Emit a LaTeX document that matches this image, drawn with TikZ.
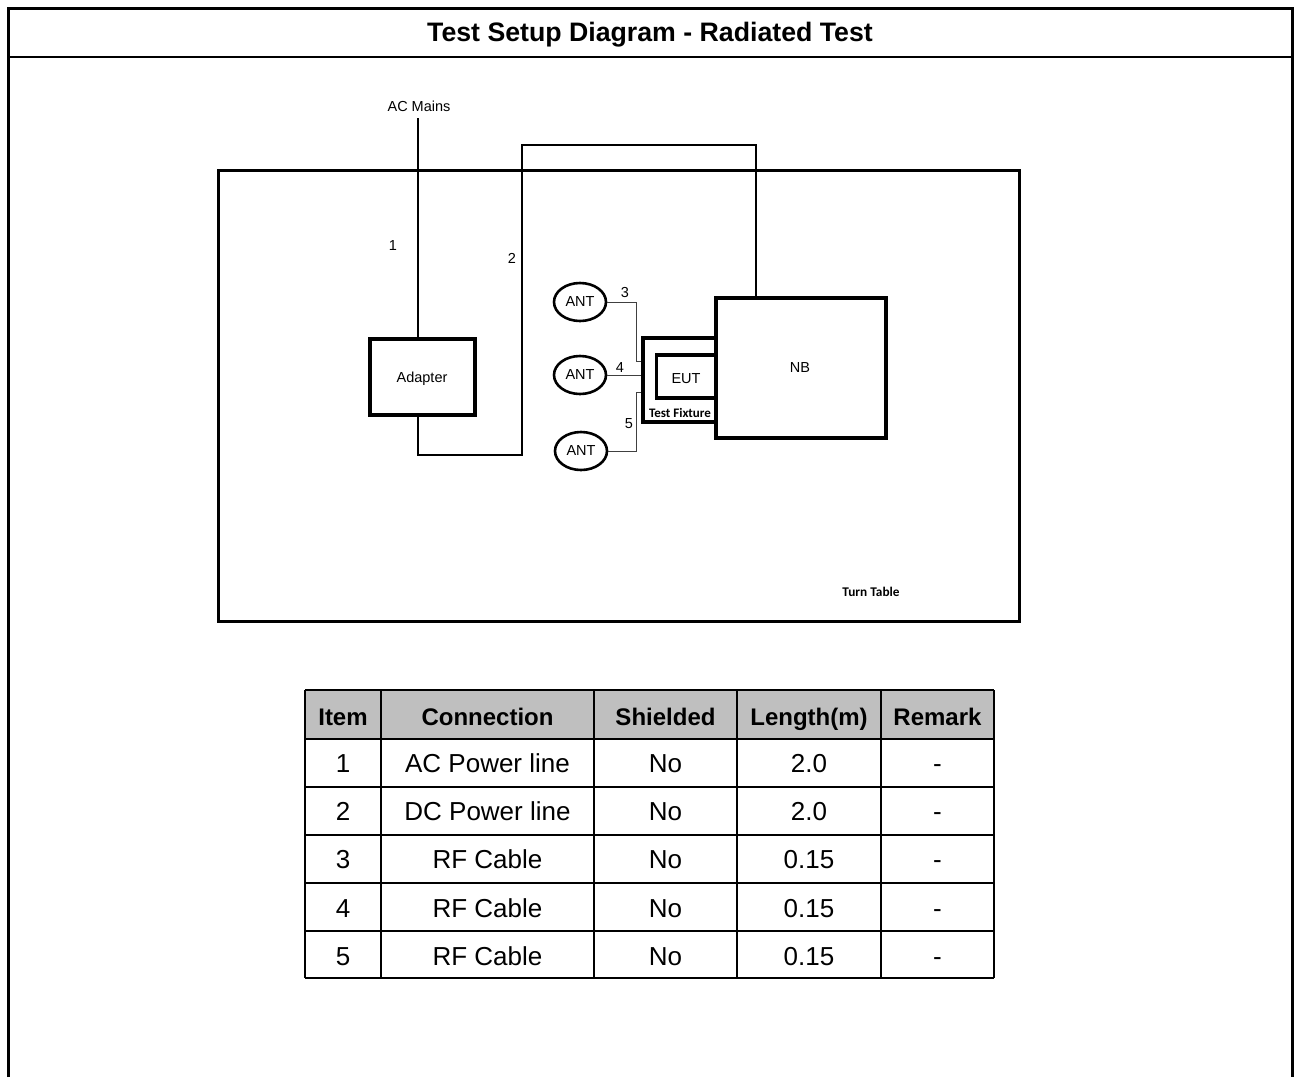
\documentclass[tikz,border=0pt]{standalone}
\usepackage{fontspec}
\setmainfont{Liberation Sans}
\newfontfamily\calib{Carlito}
\usetikzlibrary{shapes.geometric}
\begin{document}
\begin{tikzpicture}[x=1pt,y=-1pt,
  thick box/.style={draw,line width=3.5pt,inner sep=0pt},
  wire/.style={draw,line width=1.8pt},
  thin wire/.style={draw,line width=0.9pt,black!75},
  ant/.style={draw,ellipse,line width=2.6pt,minimum width=52pt,minimum height=38pt,inner sep=0pt,font=\fontsize{14.5}{17}\selectfont},
  lbl/.style={font=\fontsize{14.5}{17}\selectfont,inner sep=0pt},
  hdr/.style={font=\bfseries\fontsize{24}{28}\selectfont,inner sep=0pt,anchor=base},
  cell/.style={font=\fontsize{26}{30}\selectfont,inner sep=0pt,anchor=base}]
\useasboundingbox (0,0) rectangle (1295,1077);
% outer frame
\draw[line width=3pt] (8,1077) -- (8,8) -- (1292,8) -- (1292,1077);
\draw[line width=2pt] (8,57) -- (1292,57);
\node[font=\bfseries\fontsize{26.7}{30}\selectfont,inner sep=0pt] (title) at (650,34.5) {Test Setup Diagram - Radiated Test};
% turn table
\draw[line width=3pt] (218,170) rectangle (1019,621);
\node[font=\calib\bfseries\fontsize{13.3}{15}\selectfont,inner sep=0pt] (tt) at (871,592) {Turn Table};
% boxes
\node[thick box,minimum width=105pt,minimum height=76pt] (adapter) at (422.5,377) {};
\node[lbl] at (422,379) {Adapter};
\node[thick box,minimum width=170pt,minimum height=140pt] (nb) at (801,368) {};
\node[lbl] at (800,367.5) {NB};
\node[thick box,minimum width=73pt,minimum height=84pt] (fixture) at (679.5,380) {};
\node[thick box,minimum width=59pt,minimum height=43pt] (eut) at (686,376.5) {};
\node[lbl] at (686,378.5) {EUT};
\node[font=\calib\bfseries\fontsize{13}{15}\selectfont,inner sep=0pt] (tf) at (680,412.5) {Test Fixture};
% antennas
\node[ant] (ant1) at (580,302) {ANT};
\node[ant] (ant2) at (580,375) {ANT};
\node[ant] (ant3) at (581,451) {ANT};
% AC mains
\node[lbl] (ac) at (419,106) {AC Mains};
\coordinate (acend) at (418,118);
\draw[wire] (acend) -- (acend |- adapter.north);
\node[lbl] at (393,246) {1};
% cable 2
\draw[wire] (adapter.south -| 418,0) -- (418,455) -- (522,455) -- (522,145) -- (756,145) -- (756,0 |- nb.north);
\node[lbl] at (512,258) {2};
% RF cables
\draw[thin wire] (ant1.east) -- (636,302) -- (636,361) -- (fixture.west |- 0,361);
\draw[thin wire] (ant2.east) -- (fixture.west |- ant2.east);
\draw[thin wire] (ant3.east) -- (636,451) -- (636,392) -- (fixture.west |- 0,392);
\node[lbl] at (625,292.5) {3};
\node[lbl] at (620,367.5) {4};
\node[lbl] at (629,423.5) {5};
% table
\fill[black!25] (305,690) rectangle (994,739);
\foreach \yy in {690,739,787,835,883,931,978} \draw[line width=2.6pt] (305,\yy) -- (994,\yy);
\foreach \xx in {305,381,594,737,881,994} \draw[line width=2.6pt] (\xx,690) -- (\xx,978);
\node[hdr] (h1) at (343,725.5) {Item};
\node[hdr] (h2) at (487.5,725.5) {Connection};
\node[hdr] (h3) at (665.5,725.5) {Shielded};
\node[hdr] (h4) at (809,725.5) {Length(m)};
\node[hdr] (h5) at (937.5,725.5) {Remark};
\foreach \n/\c/\l [count=\i] in {1/AC Power line/2.0, 2/DC Power line/2.0, 3/RF Cable/0.15, 4/RF Cable/0.15, 5/RF Cable/0.15}{
  \pgfmathsetmacro{\yc}{739+48.2*(\i-1)+24+9.5}
  \node[cell] (r\i a) at (343,\yc) {\n};
  \node[cell] (r\i b) at (487.5,\yc) {\c};
  \node[cell] (r\i c) at (665.5,\yc) {No};
  \node[cell] (r\i d) at (809,\yc) {\l};
  \node[cell] (r\i e) at (937.5,\yc) {-};
}
\end{tikzpicture}
\end{document}
